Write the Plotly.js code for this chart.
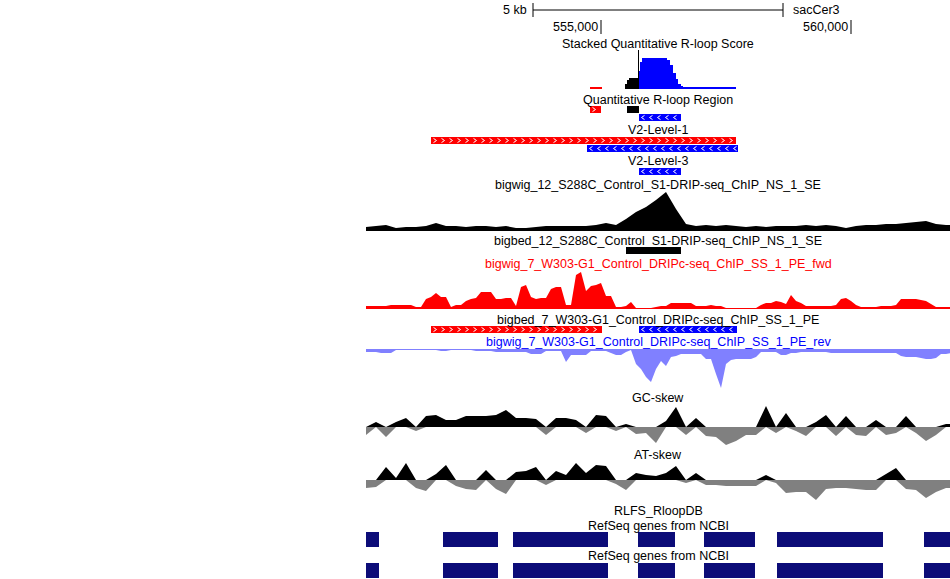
<!DOCTYPE html>
<html>
<head>
<meta charset="utf-8">
<script src="https://cdn.plot.ly/plotly-3.0.1.min.js"></script>
<style>
  html, body { margin: 0; padding: 0; background: #fff; }
  #browser { width: 950px; height: 579px; }
</style>
</head>
<body>
<div id="browser"></div>
<script>
// view window (sacCer3 chromosome coordinates)
const viewStart = 550300;
const viewEnd = 561980;
const rulerTicks = [555000, 560000];
const rulerLabels = ["555,000", "560,000"];
const scaleBarBp = 5000;

// bigwig bins: 200 bp for the coarse tracks, 100 bp for the DRIPc strands
const binPos = Array.from({ length: 60 }, (_, i) => viewStart + i * 200);
const fineBinPos = Array.from({ length: 118 }, (_, i) => viewStart + i * 100);

const dripS1 = [4, 5, 6, 3, 4, 4, 5, 8, 5, 5, 4, 5, 5, 4, 5, 3, 3, 4, 5, 5,
                5, 5, 5, 6, 8, 6, 12, 19, 24, 31, 39, 22, 7, 5, 6, 5, 6, 5, 4, 5,
                4, 5, 5, 5, 6, 5, 6, 5, 3, 5, 6, 6, 7, 7, 8, 9, 10, 7, 6, 6];
const dripcFwd = [3, 3, 3, 3, 3, 4, 4, 4, 4, 4, 2, 2, 10, 12, 16, 12, 12, 2, 4, 4,
                  8, 10, 11, 17, 17, 17, 10, 10, 11, 11, 3, 22, 24, 12, 10, 11, 11, 20, 22, 22,
                  4, 4, 34, 37, 18, 23, 24, 26, 13, 13, 2, 2, 3, 7, 1, 1, 1, 1, 2, 3,
                  3, 6, 6, 6, 6, 6, 3, 3, 3, 4, 3, 3, 1, 1, 1, 1, 1, 1, 1, 4,
                  6, 6, 8, 7, 5, 14, 8, 6, 3, 3, 3, 3, 3, 3, 4, 10, 11, 8, 4, 2,
                  2, 2, 2, 3, 3, 3, 4, 10, 10, 10, 10, 9, 8, 5, 2, 2, 2, 2];
const dripcRev = [-3, -3, -3, -4, -4, -4, -1, -1, -1, -1, -1, -1, -1, -1, -1, -2, -2, -1, -1, -1,
                  -1, -1, -2, -2, -2, -2, -3, -3, -3, -3, -3, -3, -3, -5, -5, -5, -2, -2, -2, -2,
                  -13, -6, -6, -6, -6, -2, -2, -2, -2, -4, -6, -6, -3, -1, -15, -20, -28, -33, -20, -12,
                  -17, -8, -7, -5, -5, -5, -5, -5, -10, -10, -25, -39, -15, -11, -10, -10, -10, -10, -8, -3,
                  -3, -3, -3, -6, -6, -4, -4, -3, -3, -3, -3, -3, -3, -4, -4, -4, -4, -4, -4, -4,
                  -4, -4, -4, -4, -4, -4, -4, -7, -8, -8, -8, -9, -10, -10, -9, -5, -5, -4];
const gcSkew = [-8, 5, -10, 5, 9, -4, 11, 12, 7, 7, 11, 11, 11, 12, 17, 9, 9, 8, -8, 9,
                9, 7, -6, 12, 11, -4, 3, -7, -6, -16, 6, 20, -8, 9, -9, -10, -18, -14, -8, -8,
                21, -6, 14, -4, -9, 5, 12, -9, 11, -8, -9, 7, -8, -6, 11, -6, -14, -8, 3, 3];
const atSkew = [-8, -7, 13, 2, 17, -8, -11, 6, 15, -6, -9, -10, 10, -9, -14, 8, 9, 13, -5, 9,
                5, 17, 7, 15, 14, -4, -10, 7, 5, 4, 7, 14, -3, 7, -5, -5, -6, -6, -6, -6,
                5, -3, -13, -12, -12, -20, -9, -8, -8, -9, -10, -10, 6, 12, -9, -10, -18, -12, -8, -8];

// stacked quantitative R-loop score (step data)
const scoreRedPos = [554780, 555020];
const scoreRedVal = [2, 0];
const scoreBlackPos = [555480, 555520, 555560, 555740, 555760];
const scoreBlackVal = [5, 9, 11, 39, 0];
const scoreBluePos = [555760, 555780, 555820, 556320, 556380, 556440, 556500, 556540, 556600, 556640, 557700];
const scoreBlueVal = [18, 27, 31, 29, 24, 16, 10, 5, 3, 2, 0];

// bed features
const qrStarts = [554780, 555520, 555760];
const qrEnds = [555000, 555760, 556600];
const qrStrands = ["+", ".", "-"];
const qrRows = [0, 0, 1];

const lvl1Starts = [551600, 554720];
const lvl1Ends = [557700, 557740];
const lvl1Strands = ["+", "-"];
const lvl1Rows = [0, 1];

const lvl3Starts = [555760];
const lvl3Ends = [556600];
const lvl3Strands = ["-"];

const bed12Starts = [555500];
const bed12Ends = [556600];
const bed12Strands = ["."];

const bed7Starts = [551600, 555760];
const bed7Ends = [555020, 557720];
const bed7Strands = ["+", "-"];

const geneStarts = [549800, 551840, 553240, 555740, 557060, 558520, 561460];
const geneEnds = [550560, 552940, 555140, 556480, 558080, 560640, 562300];

// ---- layout helpers ----
const W = 950, H = 579;
const LEFT = 366;
const FONT = "Liberation Sans, Arial, Helvetica, sans-serif";
const FONT_SIZE = 12.5;
const strandColor = { "+": "#ff0000", "-": "#0000ff", ".": "#000000" };

function dom(top, bottom) {
    return [1 - bottom / H, 1 - top / H];
}
function py(px) {
    return 1 - px / H;
}
function yAxis(top, bottom, range) {
    return { domain: dom(top, bottom), range: range, visible: false, fixedrange: true };
}

function signal(xs, ys, axis, color, shape) {
    return {
        type: "scatter", x: xs, y: ys, yaxis: axis, mode: "lines",
        line: { width: 0, color: color, shape: shape || "linear" },
        fill: "tozeroy", fillcolor: color, hoverinfo: "skip"
    };
}

function bedTrack(starts, ends, strands, rows, axis, width, color) {
    const traces = [{
        type: "bar", orientation: "h", yaxis: axis,
        base: starts, x: starts.map((s, i) => ends[i] - s),
        y: rows, width: width,
        marker: { color: color || strands.map(s => strandColor[s]), line: { width: 0 } },
        hoverinfo: "skip"
    }];
    // white chevrons every 8 px along stranded items
    const cx = [], cy = [];
    const half = 0.3 * width;
    strands.forEach((s, i) => {
        if (s === ".") return;
        const dir = s === "+" ? 1 : -1;
        for (let p = starts[i] + 80; p < ends[i] - 40; p += 160) {
            cx.push(p - dir * 30, p + dir * 30, p - dir * 30, null);
            cy.push(rows[i] - half, rows[i], rows[i] + half, null);
        }
    });
    if (cx.length) {
        traces.push({
            type: "scatter", mode: "lines", yaxis: axis, x: cx, y: cy,
            line: { color: "#ffffff", width: 1 }, connectgaps: false,
            hoverinfo: "skip"
        });
    }
    return traces;
}

const gcPos = gcSkew.map(v => Math.max(v, 0));
const gcNeg = gcSkew.map(v => Math.min(v, 0));
const atPos = atSkew.map(v => Math.max(v, 0));
const atNeg = atSkew.map(v => Math.min(v, 0));

const data = [
    signal(scoreRedPos, scoreRedVal, "y2", "#ff0000", "hv"),
    signal(scoreBlackPos, scoreBlackVal, "y2", "#000000", "hv"),
    signal(scoreBluePos, scoreBlueVal, "y2", "#0000ff", "hv"),
    ...bedTrack(qrStarts, qrEnds, qrStrands, qrRows, "y3", 0.875),
    ...bedTrack(lvl1Starts, lvl1Ends, lvl1Strands, lvl1Rows, "y4", 0.875),
    ...bedTrack(lvl3Starts, lvl3Ends, lvl3Strands, [0], "y5", 1),
    signal(binPos, dripS1, "y6", "#000000"),
    ...bedTrack(bed12Starts, bed12Ends, bed12Strands, [0], "y7", 1),
    signal(fineBinPos, dripcFwd, "y8", "#ff0000"),
    ...bedTrack(bed7Starts, bed7Ends, bed7Strands, [0, 0], "y9", 1),
    signal(fineBinPos, dripcRev, "y10", "#8080ff"),
    signal(binPos, gcPos, "y11", "#000000"),
    signal(binPos, gcNeg, "y11", "#808080"),
    signal(binPos, atPos, "y12", "#000000"),
    signal(binPos, atNeg, "y12", "#808080"),
    ...bedTrack(geneStarts, geneEnds, geneStarts.map(() => "."), geneStarts.map(() => 0), "y13", 1, "#0c0c78"),
    ...bedTrack(geneStarts, geneEnds, geneStarts.map(() => "."), geneStarts.map(() => 0), "y14", 1, "#0c0c78")
];

// track labels: [text, y px, colour]
const trackLabels = [
    ["Stacked Quantitative R-loop Score", 44, "#000"],
    ["Quantitative R-loop Region", 100, "#000"],
    ["V2-Level-1", 130, "#000"],
    ["V2-Level-3", 161, "#000"],
    ["bigwig_12_S288C_Control_S1-DRIP-seq_ChIP_NS_1_SE", 185, "#000"],
    ["bigbed_12_S288C_Control_S1-DRIP-seq_ChIP_NS_1_SE", 241, "#000"],
    ["bigwig_7_W303-G1_Control_DRIPc-seq_ChIP_SS_1_PE_fwd", 264, "#ff0000"],
    ["bigbed_7_W303-G1_Control_DRIPc-seq_ChIP_SS_1_PE", 320, "#000"],
    ["bigwig_7_W303-G1_Control_DRIPc-seq_ChIP_SS_1_PE_rev", 342, "#0000ff"],
    ["GC-skew", 398, "#000"],
    ["AT-skew", 455, "#000"],
    ["RLFS_RloopDB", 511, "#000"],
    ["RefSeq genes from NCBI", 526, "#000"],
    ["RefSeq genes from NCBI", 556, "#000"]
];

const center = (viewStart + viewEnd) / 2;
const barStart = center - scaleBarBp / 2;
const barEnd = center + scaleBarBp / 2;

const annotations = trackLabels.map(([t, y, c]) => ({
    text: t, xref: "paper", yref: "paper", x: 0.5, y: py(y),
    xanchor: "center", yanchor: "middle", showarrow: false,
    font: { family: FONT, size: FONT_SIZE, color: c }
}));
annotations.push(
    { text: "5 kb", xref: "x", yref: "paper", x: barStart, y: py(10), xanchor: "right", yanchor: "middle",
      xshift: -4, showarrow: false, font: { family: FONT, size: FONT_SIZE, color: "#000" } },
    { text: "sacCer3", xref: "x", yref: "paper", x: barEnd, y: py(10), xanchor: "left", yanchor: "middle",
      xshift: 8, showarrow: false, font: { family: FONT, size: FONT_SIZE, color: "#000" } }
);
rulerTicks.forEach((t, i) => annotations.push({
    text: rulerLabels[i], xref: "x", yref: "paper", x: t, y: py(27), xanchor: "right", yanchor: "middle",
    xshift: -1, showarrow: false, font: { family: FONT, size: FONT_SIZE, color: "#000" }
}));

const blackLine = { color: "#000", width: 1 };
const shapes = [
    { type: "line", xref: "x", yref: "paper", x0: barStart, x1: barEnd, y0: py(10), y1: py(10), line: blackLine },
    { type: "line", xref: "x", yref: "paper", x0: barStart, x1: barStart, y0: py(3), y1: py(17), line: blackLine },
    { type: "line", xref: "x", yref: "paper", x0: barEnd, x1: barEnd, y0: py(3), y1: py(17), line: blackLine }
];
rulerTicks.forEach(t => shapes.push(
    { type: "line", xref: "x", yref: "paper", x0: t, x1: t, y0: py(20), y1: py(34), line: blackLine }
));

const layout = {
    width: W, height: H,
    margin: { l: LEFT, r: 0, t: 0, b: 0, pad: 0 },
    paper_bgcolor: "#ffffff", plot_bgcolor: "#ffffff",
    showlegend: false, barmode: "overlay",
    xaxis: { range: [viewStart, viewEnd], visible: false, fixedrange: true },
    yaxis: { visible: false },
    yaxis2: yAxis(50, 89, [0, 39]),
    yaxis3: yAxis(105.5, 121.5, [1.5, -0.5]),
    yaxis4: yAxis(136.5, 152.5, [1.5, -0.5]),
    yaxis5: yAxis(168, 175, [0.5, -0.5]),
    yaxis6: yAxis(191, 231, [0, 40]),
    yaxis7: yAxis(247, 254, [0.5, -0.5]),
    yaxis8: yAxis(270, 309, [0, 39]),
    yaxis9: yAxis(326, 333, [0.5, -0.5]),
    yaxis10: yAxis(349, 388, [-39, 0]),
    yaxis11: yAxis(406, 445, [-18, 21]),
    yaxis12: yAxis(461, 500, [-20, 19]),
    yaxis13: yAxis(532, 547, [0.5, -0.5]),
    yaxis14: yAxis(563, 578, [0.5, -0.5]),
    annotations: annotations,
    shapes: shapes
};

Plotly.newPlot("browser", data, layout, { displayModeBar: false, staticPlot: true });
</script>
</body>
</html>
